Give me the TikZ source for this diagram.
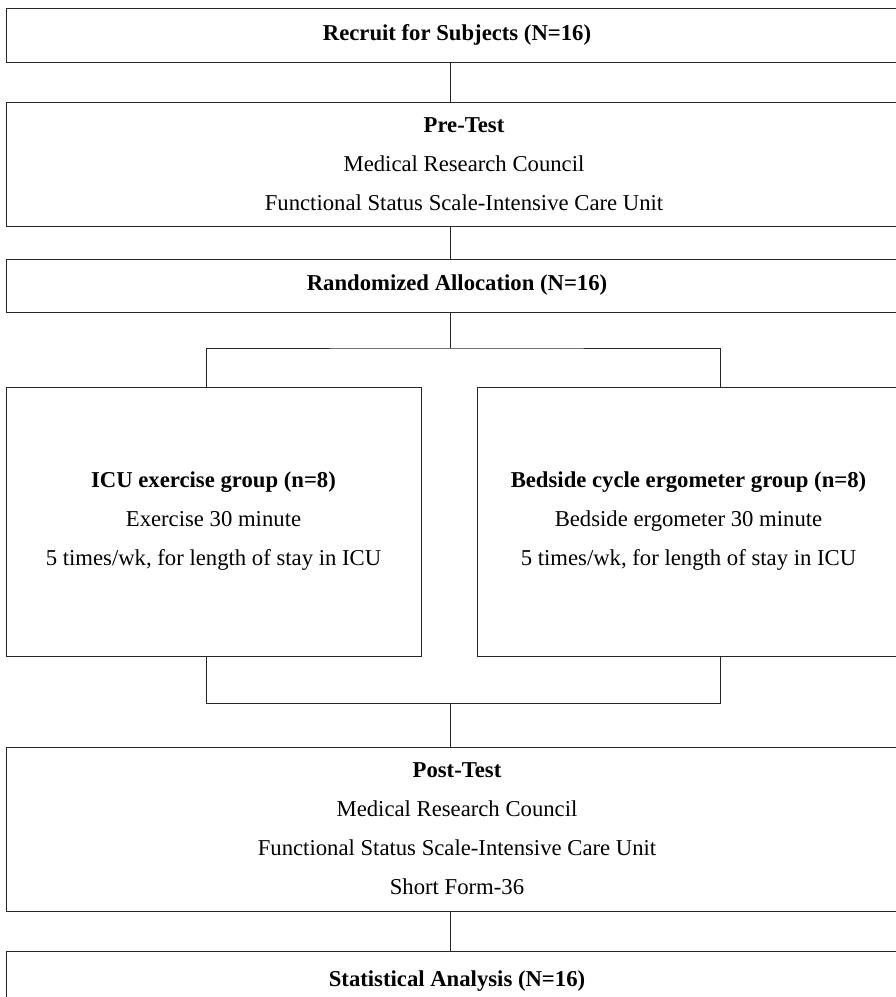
\documentclass[tikz,border=0pt]{standalone}
\usepackage{fontspec}
\setmainfont{Liberation Serif}
\usepackage{tikz}
\usetikzlibrary{positioning}

\begin{document}
\begin{tikzpicture}[x=1pt, y=-1pt,
  font=\fontsize{22.7}{39}\selectfont,
  box/.style={draw=black!85, line width=1pt, align=center, inner sep=0pt},
  link/.style={draw=black!85, line width=1pt}]
  \useasboundingbox (0,0) rectangle (896,997);

  \node[box, minimum width=902, minimum height=54] (recruit) at (457,35) {\textbf{Recruit for Subjects (N=16)}};

  \node[box, minimum width=916, minimum height=124] (pretest) at (464,164) {\textbf{Pre-Test}\\
  Medical Research Council\\
  Functional Status Scale-Intensive Care Unit};

  \node[box, minimum width=902, minimum height=53] (alloc) at (457,285.5) {\textbf{Randomized Allocation (N=16)}};

  \node[box, minimum width=415, minimum height=269] (icu) at (213.5,521.5) {\textbf{ICU exercise group (n=8)}\\
  Exercise 30 minute\\
  5 times/wk, for length of stay in ICU};

  \node[box, minimum width=423, minimum height=269] (cycle) at (688.5,521.5) {\textbf{Bedside cycle ergometer group (n=8)}\\
  Bedside ergometer 30 minute\\
  5 times/wk, for length of stay in ICU};

  \node[box, minimum width=902, minimum height=164] (posttest) at (457,829) {\textbf{Post-Test}\\
  Medical Research Council\\
  Functional Status Scale-Intensive Care Unit\\
  Short Form-36};

  \node[box, minimum width=902, minimum height=60] (stats) at (457,981) {\textbf{Statistical Analysis (N=16)}};

  % spine and branch points
  \coordinate (mid) at (450,0);
  \coordinate (lft) at (206,0);
  \coordinate (rgt) at (720,0);
  \coordinate (split) at (450,348);
  \coordinate (merge) at (450,703);

  \draw[link] (recruit.south -| mid) -- (pretest.north -| mid);
  \draw[link] (pretest.south -| mid) -- (alloc.north -| mid);
  \draw[link] (alloc.south -| mid) -- (split);
  \draw[link] (icu.north -| lft) |- (split) -| (cycle.north -| rgt);
  \draw[link] (icu.south -| lft) |- (merge) -| (cycle.south -| rgt);
  \draw[link] (merge) -- (posttest.north -| mid);
  \draw[link] (posttest.south -| mid) -- (stats.north -| mid);
\end{tikzpicture}
\end{document}
